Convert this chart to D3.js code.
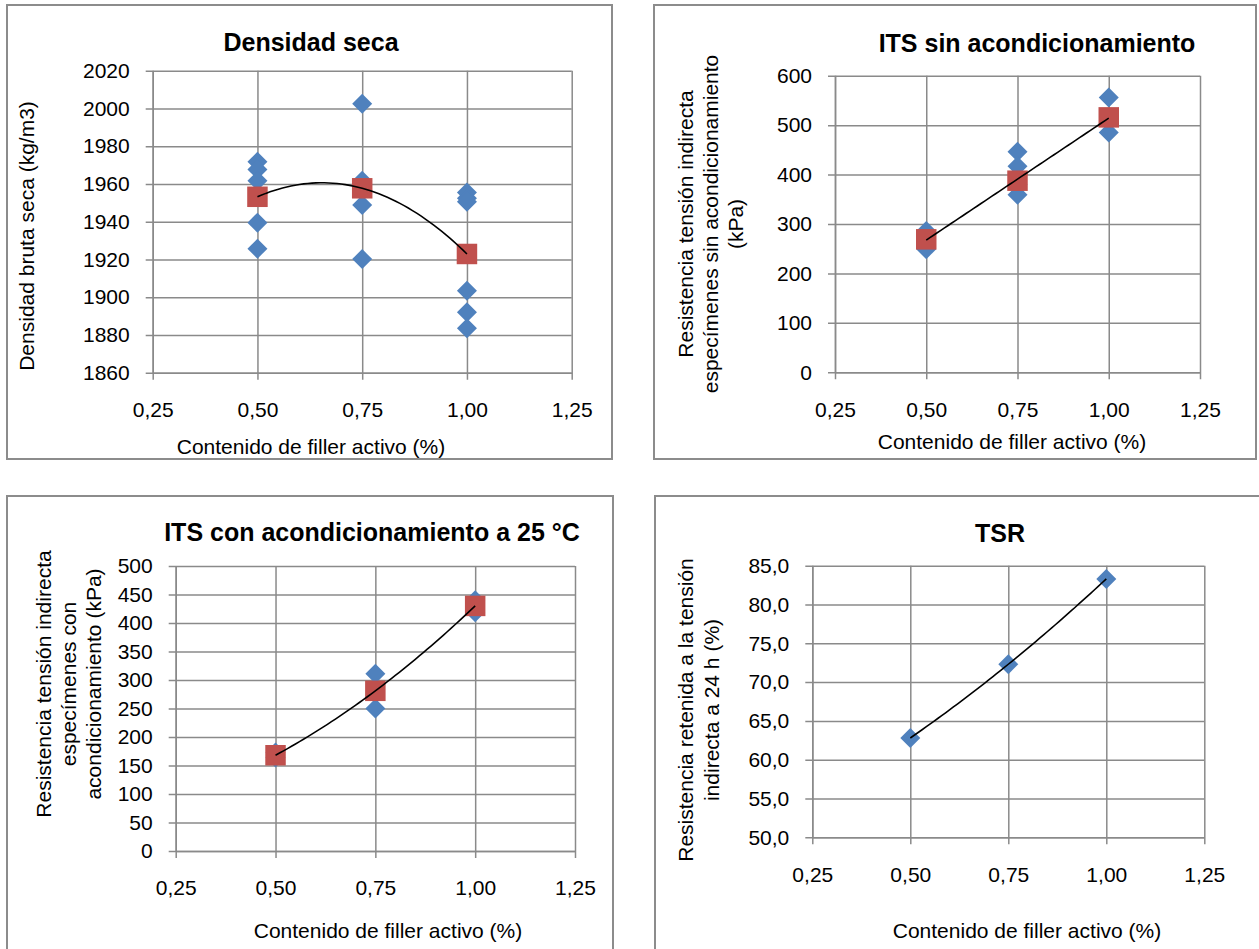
<!DOCTYPE html>
<html>
<head>
<meta charset="utf-8">
<script src="https://cdn.jsdelivr.net/npm/d3@7"></script>
<style>
  html, body { margin: 0; padding: 0; background: #ffffff; }
  svg { display: block; font-family: "Liberation Sans", Arial, sans-serif; }
</style>
</head>
<body>
<svg id="chart" width="1259" height="949"></svg>
<script>
// ---------------- DATA ----------------
const contenido = [0.50, 0.75, 1.00];
const xTicks = [0.25, 0.50, 0.75, 1.00, 1.25];

// Densidad seca
const densidadX = [0.5, 0.5, 0.5, 0.5, 0.5, 0.75, 0.75, 0.75, 0.75, 1.0, 1.0, 1.0, 1.0, 1.0, 1.0];
const densidadY = [1971.8, 1967.7, 1961.7, 1939.5, 1925.7, 2002.5, 1961.7, 1948.8, 1920.2, 1955.5, 1952.4, 1950.6, 1903.4, 1892.0, 1883.5];
const densidadMedia = [1953.2, 1957.7, 1922.9];
const densidadTicks = [1860, 1880, 1900, 1920, 1940, 1960, 1980, 2000, 2020];

// ITS sin acondicionamiento
const itsSinX = [0.5, 0.5, 0.75, 0.75, 0.75, 0.75, 1.0, 1.0];
const itsSinY = [286, 249, 446, 417, 380, 359, 556, 485];
const itsSinMedia = [269, 387.6, 515.7];
const itsSinTicks = [0, 100, 200, 300, 400, 500, 600];

// ITS con acondicionamiento a 25 °C
const itsConX = [0.5, 0.5, 0.75, 0.75, 1.0, 1.0];
const itsConY = [173, 164, 311, 250, 440, 419];
const itsConMedia = [168, 281, 430];
const itsConTicks = [0, 50, 100, 150, 200, 250, 300, 350, 400, 450, 500];

// TSR
const tsrY = [62.8, 72.3, 83.3];
const tsrTicks = [50, 55, 60, 65, 70, 75, 80, 85];

// ---------------- HELPERS ----------------
const locale = d3.formatLocale({decimal: ",", thousands: ".", grouping: [3], currency: ["", " €"]});
const fmtX = locale.format(".2f");
const fmtInt = locale.format("d");
const fmt1 = locale.format(".1f");

const BLUE = "#4F81BD", RED = "#C0504D", GRID = "#8a8a8a", FRAME = "#8c8c8c";
const svg = d3.select("#chart");

// least-squares polynomial fit (trendline)
function polyFit(xs, ys, deg) {
  const n = deg + 1;
  const A = Array.from({length: n}, () => new Array(n + 1).fill(0));
  for (let r = 0; r < n; r++) {
    for (let c = 0; c < n; c++) A[r][c] = d3.sum(xs, x => Math.pow(x, r + c));
    A[r][n] = d3.sum(xs, (x, i) => ys[i] * Math.pow(x, r));
  }
  for (let i = 0; i < n; i++) {
    let p = i;
    for (let k = i + 1; k < n; k++) if (Math.abs(A[k][i]) > Math.abs(A[p][i])) p = k;
    [A[i], A[p]] = [A[p], A[i]];
    for (let k = i + 1; k < n; k++) {
      const f = A[k][i] / A[i][i];
      for (let j = i; j <= n; j++) A[k][j] -= f * A[i][j];
    }
  }
  const coef = new Array(n).fill(0);
  for (let i = n - 1; i >= 0; i--) {
    let s = A[i][n];
    for (let j = i + 1; j < n; j++) s -= A[i][j] * coef[j];
    coef[i] = s / A[i][i];
  }
  return x => coef.reduce((acc, c, k) => acc + c * Math.pow(x, k), 0);
}

function drawPanel(cfg) {
  const g = svg.append("g");
  // frame
  g.append("rect")
    .attr("x", cfg.frame[0]).attr("y", cfg.frame[1])
    .attr("width", cfg.frame[2]).attr("height", cfg.frame[3])
    .attr("fill", "#fff").attr("stroke", FRAME).attr("stroke-width", 2);

  const x = d3.scaleLinear().domain([0.25, 1.25]).range([cfg.plot[0], cfg.plot[1]]);
  const y = d3.scaleLinear().domain(cfg.yDomain).range([cfg.plot[3], cfg.plot[2]]);

  // horizontal grid + y axis
  const yAxis = d3.axisLeft(y).tickValues(cfg.yTicks).tickFormat(cfg.yFmt)
    .tickSizeInner(-(cfg.plot[1] - cfg.plot[0])).tickSizeOuter(0).tickPadding(0);
  const ya = g.append("g").attr("transform", `translate(${cfg.plot[0]},0)`).call(yAxis);
  ya.select(".domain").attr("stroke", GRID).attr("stroke-width", 1.5);
  ya.selectAll(".tick line").attr("stroke", GRID).attr("stroke-width", 1.5).attr("x1", -7);
  ya.selectAll(".tick text").attr("x", -23).attr("font-size", 21).attr("fill", "#000")
    .attr("font-family", "'Liberation Sans', Arial, sans-serif");

  // vertical grid + x axis
  const xAxis = d3.axisBottom(x).tickValues(xTicks).tickFormat(fmtX)
    .tickSizeInner(-(cfg.plot[3] - cfg.plot[2])).tickSizeOuter(0).tickPadding(0);
  const xa = g.append("g").attr("transform", `translate(0,${cfg.plot[3]})`).call(xAxis);
  xa.select(".domain").attr("stroke", GRID).attr("stroke-width", 1.5);
  xa.selectAll(".tick line").attr("stroke", GRID).attr("stroke-width", 1.5).attr("y1", 7);
  xa.selectAll(".tick text").attr("y", cfg.xTickDy).attr("dy", "0.35em").attr("font-size", 21)
    .attr("fill", "#000").attr("font-family", "'Liberation Sans', Arial, sans-serif");

  // diamonds (individual specimens)
  const diamond = d3.symbol().type(d3.symbolSquare).size(200);
  g.append("g").selectAll("path").data(cfg.pointsX.map((v, i) => [v, cfg.pointsY[i]]))
    .join("path")
    .attr("d", diamond)
    .attr("transform", d => `translate(${x(d[0])},${y(d[1])}) rotate(45)`)
    .attr("fill", BLUE);

  // squares (means)
  if (cfg.means) {
    const sq = d3.symbol().type(d3.symbolSquare).size(420);
    g.append("g").selectAll("path").data(contenido.map((v, i) => [v, cfg.means[i]]))
      .join("path")
      .attr("d", sq)
      .attr("transform", d => `translate(${x(d[0])},${y(d[1])})`)
      .attr("fill", RED);
  }

  // trendline
  const fitYs = cfg.means || cfg.pointsY;
  const f = polyFit(contenido, fitYs, cfg.deg);
  const xs = d3.range(0.5, 1.0001, 0.01);
  g.append("path")
    .attr("d", d3.line().x(v => x(v)).y(v => y(f(v)))(xs))
    .attr("fill", "none").attr("stroke", "#000").attr("stroke-width", 1.6);

  // title
  g.append("text").attr("x", cfg.title[1]).attr("y", cfg.title[2]).attr("dy", "0.35em")
    .attr("text-anchor", "middle").attr("font-size", 25).attr("font-weight", "bold")
    .text(cfg.title[0]);

  // x label
  g.append("text").attr("x", cfg.xLabel[0]).attr("y", cfg.xLabel[1]).attr("dy", "0.35em")
    .attr("text-anchor", "middle").attr("font-size", 21)
    .text("Contenido de filler activo (%)");

  // y label (multi-line rotated)
  cfg.yLabel.lines.forEach((line, i) => {
    const lx = cfg.yLabel.xs[i];
    g.append("text")
      .attr("transform", `translate(${lx},${cfg.yLabel.cy}) rotate(-90)`)
      .attr("dy", "0.35em").attr("text-anchor", "middle").attr("font-size", 21)
      .text(line);
  });
}

drawPanel({
  frame: [7, 5, 605, 454],
  plot: [152.7, 571.7, 70.7, 372.7],
  yDomain: [1860, 2020], yTicks: densidadTicks, yFmt: fmtInt,
  pointsX: densidadX, pointsY: densidadY, means: densidadMedia, deg: 2,
  title: ["Densidad seca", 311, 42],
  xTickDy: 37, xLabel: [311, 447],
  yLabel: {lines: ["Densidad bruta seca (kg/m3)"], xs: [27], cy: 236}
});

drawPanel({
  frame: [654, 5, 602, 454],
  plot: [835, 1200, 75.7, 372.3],
  yDomain: [0, 600], yTicks: itsSinTicks, yFmt: fmtInt,
  pointsX: itsSinX, pointsY: itsSinY, means: itsSinMedia, deg: 1,
  title: ["ITS sin acondicionamiento", 1037, 43],
  xTickDy: 37, xLabel: [1012, 442],
  yLabel: {lines: ["Resistencia tensión indirecta", "especímenes sin acondicionamiento", "(kPa)"], xs: [686, 711, 736], cy: 224}
});

drawPanel({
  frame: [7, 496, 606, 470],
  plot: [175.7, 575, 566, 851],
  yDomain: [0, 500], yTicks: itsConTicks, yFmt: fmtInt,
  pointsX: itsConX, pointsY: itsConY, means: itsConMedia, deg: 2,
  title: ["ITS con acondicionamiento a 25 °C", 372, 532],
  xTickDy: 37, xLabel: [388, 931],
  yLabel: {lines: ["Resistencia tensión indirecta", "especímenes con", "acondicionamiento (kPa)"], xs: [44, 69, 94], cy: 684}
});

drawPanel({
  frame: [655, 496, 620, 470],
  plot: [812.3, 1204.3, 565.7, 837.3],
  yDomain: [50, 85], yTicks: tsrTicks, yFmt: fmt1,
  pointsX: contenido, pointsY: tsrY, means: null, deg: 2,
  title: ["TSR", 1000, 533],
  xTickDy: 37, xLabel: [1027, 931],
  yLabel: {lines: ["Resistencia retenida a la tensión", "indirecta a 24 h (%)"], xs: [686, 712], cy: 710}
});
</script>
</body>
</html>
